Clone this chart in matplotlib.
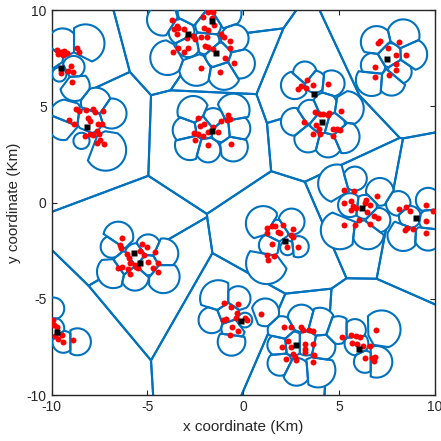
import numpy as np
import matplotlib.pyplot as plt

plt.rcParams['font.family'] = ['Liberation Sans', 'DejaVu Sans']
plt.rcParams['axes.unicode_minus'] = False

# macro base stations (black squares), km
bs_x = [-9.53, -8.13, -2.87, -1.43, -1.64, -1.61, 7.52, 3.69, 4.12, -5.70, -5.40,
        -9.71, -0.13, 6.18, 9.04, 2.17, 2.75, 6.06]
bs_y = [6.97, 3.93, 8.74, 7.76, 9.44, 3.71, 7.45, 5.65, 4.21, -2.60, -3.12,
        -6.74, -6.15, -0.26, -0.80, -2.00, -7.40, -7.62]

# small cell sites (centre x, centre y, coverage radius), km
cell_x = [-8.23, -9.43, -10.09, -8.85, -8.78, -9.60,
          -4.20, -3.95, -2.44, -1.00, -0.17, -0.44, -0.87, -2.70, -3.22, -1.83, -1.91, -2.87, -1.31,
          -9.22, -7.69, -6.87, -7.18, -8.44, -9.39, -8.00,
          -2.61, -0.52, -2.96, -2.78, -1.83, -0.52, -0.35, -2.00, -1.13, -1.57,
          2.69, 3.22, 3.74, 4.61,
          5.39, 4.26, 3.48, 2.69, 3.39, 4.43, 5.22, 4.09, 4.69,
          6.96, 8.35, 8.78, 6.70, 7.74, 8.17, 6.78, 7.65,
          -6.52, -6.87, -6.78, -5.65, -4.96, -4.17, -4.17, -5.57, -6.17, -5.04,
          1.04, 2.52, 2.87, 2.31, 1.22, 1.74, 1.39,
          4.90, 5.83, 7.13, 5.04, 6.52, 7.04, 5.57, 6.35,
          8.09, 8.35, 9.65, 9.65, 9.74, 8.70,
          -9.91, -8.65, -9.39, -9.91,
          -1.30, -0.26, -1.65, -0.61, 1.15, 0.09, -0.78, -0.52,
          2.00, 3.04, 4.00, 4.09, 3.91, 2.78, 1.91, 1.83, 2.61, 3.30,
          7.22, 4.96, 5.83, 6.96, 6.35, 5.91]
cell_y = [8.27, 8.27, 7.40, 7.05, 6.05, 6.66,
          9.50, 7.53, 6.97, 6.71, 7.23, 8.53, 9.83, 9.91, 8.87, 9.22, 8.36, 8.18, 7.66,
          4.46, 5.19, 4.63, 2.73, 3.21, 4.03, 4.29,
          4.72, 4.81, 3.77, 2.99, 2.73, 2.90, 3.85, 3.94, 3.77, 4.29,
          6.10, 6.71, 6.28, 6.19,
          4.89, 5.07, 4.72, 4.20, 3.33, 3.07, 3.42, 4.20, 4.03,
          8.35, 8.67, 7.70, 6.36, 6.28, 6.80, 7.14, 7.66,
          -1.77, -2.29, -3.59, -3.85, -2.29, -2.64, -3.85, -2.73, -3.16, -3.16,
          -1.08, -0.99, -2.29, -2.35, -3.16, -1.51, -2.21,
          0.99, 1.25, 0.56, -1.43, -1.60, -0.91, -0.13, -0.22,
          -0.04, -1.69, 0.13, -1.77, -0.91, -0.74,
          -5.50, -7.23, -7.23, -6.54,
          -4.98, -4.98, -6.10, -7.23, -5.70, -6.10, -5.76, -6.54,
          -6.62, -6.02, -6.28, -7.49, -8.70, -8.79, -8.35, -7.40, -7.32, -7.32,
          -6.59, -6.62, -6.62, -8.27, -8.27, -7.32]
cell_r = [0.99, 0.78, 0.72, 0.57, 0.77, 0.37,
          0.82, 0.90, 0.90, 0.85, 0.78, 0.72, 0.78, 0.72, 0.67, 0.67, 0.67, 0.62, 0.67,
          0.90, 0.78, 0.78, 1.07, 0.42, 0.78, 0.67,
          0.82, 0.85, 0.72, 0.78, 0.64, 0.76, 0.72, 0.62, 0.62, 0.62,
          0.72, 0.62, 0.57, 0.68,
          0.90, 0.64, 0.62, 0.72, 0.72, 0.72, 0.85, 0.62, 0.62,
          0.82, 0.85, 0.82, 0.82, 0.72, 0.62, 0.64, 0.62,
          0.78, 0.57, 0.85, 0.72, 0.64, 0.78, 0.85, 0.62, 0.62, 0.62,
          0.90, 0.68, 0.55, 0.38, 1.07, 0.62, 0.57,
          0.99, 0.62, 0.72, 0.99, 0.82, 0.64, 0.62, 0.62,
          0.64, 0.82, 0.64, 0.72, 0.57, 0.57,
          0.57, 0.70, 0.57, 0.57,
          0.95, 0.64, 0.68, 0.72, 0.72, 0.38, 0.62, 0.62,
          0.72, 0.72, 0.82, 0.72, 0.90, 0.72, 0.64, 0.57, 0.62, 0.62,
          0.99, 0.72, 0.57, 0.82, 0.57, 0.62]

# users (red dots), km, one pair of lists per cluster
u1_x = [-9.74, -9.53, -9.36, -9.22, -9.43, -9.65, -8.66, -8.56, -9.01, -9.13, -9.53, -8.87, -8.96]
u1_y = [7.92, 7.83, 7.89, 7.75, 7.66, 7.70, 8.01, 7.80, 7.09, 6.83, 6.74, 6.79, 6.28]

u2_x = [-3.74, -3.48, -3.60, -3.39, -3.08, -3.48, -2.09, -1.83, -1.57, -1.65, -1.51, -2.04,
        -1.83, -2.91, -2.61, -2.52, -2.18, -1.91, -1.17, -0.99, -0.70, -3.39, -3.65, -3.08,
        -2.87, -2.00, -1.86, -1.57, -0.70, -0.96, -0.47, -2.21, -1.22]
u2_y = [9.48, 9.19, 9.01, 9.08, 9.01, 8.74, 9.65, 9.88, 9.88, 9.57, 9.22, 9.08,
        8.96, 8.56, 8.67, 8.49, 8.62, 8.62, 8.74, 8.62, 8.39, 8.01, 7.80, 7.84,
        8.04, 8.15, 8.10, 7.97, 8.04, 7.52, 7.23, 6.97, 6.80]

u3_x = [-8.73, -8.56, -8.18, -7.83, -7.74, -7.31, -9.08, -8.82, -8.09, -8.00, -7.57, -7.39,
        -7.65, -8.00, -8.26, -7.83, -7.51, -7.65, -7.25, -7.48]
u3_y = [4.86, 4.75, 4.81, 4.86, 4.72, 4.75, 4.29, 4.06, 4.42, 4.23, 4.06, 4.06,
        3.73, 3.54, 3.45, 3.51, 3.59, 3.11, 3.07, 3.25]

u4_x = [-2.38, -2.26, -2.04, -2.56, -2.35, -2.49, -2.09, -1.86, -1.57, -1.34, -1.17, -0.87,
        -0.78, -0.70, -1.83, -0.66]
u4_y = [4.41, 3.99, 4.11, 3.63, 3.54, 3.28, 3.47, 3.65, 3.94, 3.65, 4.23, 4.29,
        4.55, 4.37, 2.99, 3.07]

u5_x = [3.34, 2.99, 2.87, 3.27, 3.65, 4.40,
        3.77, 4.00, 4.14, 4.49, 4.43, 5.10, 3.16, 3.82, 3.96, 4.03, 3.62, 4.69, 4.87, 5.04, 4.69]
u5_y = [6.36, 6.07, 5.90, 5.97, 6.10, 6.16,
        4.72, 4.63, 4.58, 4.68, 4.55, 4.77, 4.20, 4.03, 3.82, 3.59, 3.56, 3.85, 3.85, 3.78, 3.47]

u6_x = [7.06, 7.16, 7.56, 8.12, 7.96, 8.52, 7.96, 7.96, 6.87, 6.87, 7.62]
u6_y = [8.27, 8.39, 8.01, 8.35, 7.66, 7.66, 7.18, 6.88, 7.06, 6.54, 6.62]

u7_x = [-6.31, -6.44, -6.38, -6.09, -5.95, -5.27, -5.04, -5.39, -5.17, -4.61, -5.91, -5.65,
        -5.51, -4.99, -6.52, -6.30, -6.00, -5.91, -5.57, -4.70, -4.47, -4.44]
u7_y = [-1.83, -2.21, -2.35, -2.68, -2.85, -2.17, -2.29, -2.50, -2.73, -2.59, -3.16, -3.25,
        -3.42, -3.07, -3.42, -3.33, -3.47, -3.71, -3.33, -3.42, -3.59, -3.16]

u8_x = [1.22, 1.22, 1.48, 1.65, 1.79, 1.91, 2.09, 2.61, 2.52, 2.61, 1.48, 1.22, 1.27, 1.62, 2.31, 2.87]
u8_y = [-1.34, -1.60, -1.22, -1.22, -1.51, -1.60, -1.17, -1.39, -1.69, -1.81, -2.16, -2.73,
        -2.99, -2.78, -2.29, -2.33]

u9_x = [5.25, 5.77, 5.25, 5.60, 5.74, 5.65, 5.88, 6.40, 6.35, 6.64, 6.96, 6.47, 6.82, 7.04,
        6.05, 5.25, 5.83, 6.61,
        8.14, 8.52, 8.70, 8.43, 8.56, 8.87, 9.56, 9.88, 9.56, 9.56]
u9_y = [0.68, 0.61, -0.04, 0.09, -0.18, -0.36, -0.30, 0.13, -0.04, -0.13, 0.34, -0.51, -0.68, -0.82,
        -0.91, -1.17, -1.17, -1.13,
        -0.34, -0.25, -0.44, -1.43, -1.34, -1.38, -0.13, -0.44, -0.95, -1.60]

u10_x = [-9.95, -9.88, -9.74, -9.83, -9.65, -9.48, -9.43, -8.87]
u10_y = [-6.10, -6.36, -6.45, -6.92, -7.06, -6.88, -7.26, -7.11]

u11_x = [-1.01, -0.66, -0.26, -0.30, -0.38, -0.91, -1.08, 0.09, 0.21, -0.56, -0.26, -0.70, 0.91]
u11_y = [-5.20, -5.41, -5.29, -5.71, -5.98, -6.07, -6.10, -5.98, -6.10, -6.45, -6.68, -6.88, -5.79]

u12_x = [2.12, 2.52, 2.99, 3.10, 3.44, 3.62, 2.35, 2.05, 2.52, 2.61, 2.78, 2.70, 3.22, 3.22,
         3.62, 3.22, 3.69, 3.65, 2.23]
u12_y = [-6.45, -6.45, -6.45, -6.62, -6.62, -6.66, -7.18, -7.52, -7.49, -7.87, -8.18, -8.01,
         -7.32, -7.58, -7.32, -7.75, -7.92, -8.27, -8.10]

u13_x = [5.13, 5.65, 5.88, 6.09, 5.70, 5.95, 6.26, 6.64, 6.92, 6.35, 6.70, 6.87, 6.82]
u13_y = [-6.97, -6.88, -6.94, -7.00, -7.28, -7.35, -7.45, -7.44, -6.62, -8.09, -8.09, -8.01, -8.22]

blue = '#0072BD'


def clip(poly, a, b):
    # keep the part of poly with a.x <= b
    f = poly @ a - b
    if (f <= 0).all():
        return poly
    if (f > 0).all():
        return poly[:0]
    out = []
    n = len(poly)
    for k in range(n):
        p, q = poly[k], poly[(k + 1) % n]
        if f[k] <= 0:
            out.append(p)
        if f[k] * f[(k + 1) % n] < 0:
            t = f[k] / (f[k] - f[(k + 1) % n])
            out.append(p + t * (q - p))
    return np.array(out)


def cell(i, pts, start, reach):
    poly = start
    for j in range(len(pts)):
        if j == i or np.hypot(*(pts[j] - pts[i])) > reach:
            continue
        d = pts[j] - pts[i]
        poly = clip(poly, d, (pts[j] @ pts[j] - pts[i] @ pts[i]) / 2)
        if len(poly) == 0:
            break
    return poly


fig = plt.figure(figsize=(4.41, 4.41), dpi=100)
ax = fig.add_axes([0.117, 0.104, 0.869, 0.873])

# macro tier voronoi
bs = np.column_stack([bs_x, bs_y])
box = np.array([[-40, -40], [40, -40], [40, 40], [-40, 40]], float)
for i in range(len(bs)):
    poly = cell(i, bs, box, 1e9)
    if len(poly):
        ax.add_patch(plt.Polygon(poly, closed=True, fill=False, edgecolor=blue, lw=1.5, zorder=1))

# small cell tier: voronoi cells cut by each coverage disc
sc = np.column_stack([cell_x, cell_y])
th = np.linspace(0, 2 * np.pi, 160, endpoint=False)
ring = np.column_stack([np.cos(th), np.sin(th)])
for i in range(len(sc)):
    poly = cell(i, sc, sc[i] + cell_r[i] * ring, 2 * cell_r[i])
    if len(poly) < 3:
        continue
    ax.add_patch(plt.Polygon(poly, closed=True, facecolor='white', edgecolor='none', zorder=2))
    ax.add_patch(plt.Polygon(poly, closed=True, fill=False, edgecolor=blue, lw=1.5, zorder=3))

ux = sum([u1_x, u2_x, u3_x, u4_x, u5_x, u6_x, u7_x, u8_x, u9_x, u10_x, u11_x, u12_x, u13_x], [])
uy = sum([u1_y, u2_y, u3_y, u4_y, u5_y, u6_y, u7_y, u8_y, u9_y, u10_y, u11_y, u12_y, u13_y], [])
ax.plot(ux, uy, 'o', color='red', ms=4.3, mec='none', zorder=4)
ax.plot(bs_x, bs_y, 's', color='black', ms=4.3, mec='none', zorder=5)

ax.set_xlim(-10, 10)
ax.set_ylim(-10, 10)
ax.set_xticks([-10, -5, 0, 5, 10])
ax.set_yticks([-10, -5, 0, 5, 10])
ax.tick_params(direction='in', top=True, right=True, length=3.5, labelsize=10, colors='#262626')
for s in ax.spines.values():
    s.set_color('#262626')
    s.set_linewidth(1.0)
ax.set_xlabel('x coordinate (Km)', fontsize=11, color='#262626')
ax.set_ylabel('y coordinate (Km)', fontsize=11, color='#262626')

fig.savefig('out.png', dpi=100)
